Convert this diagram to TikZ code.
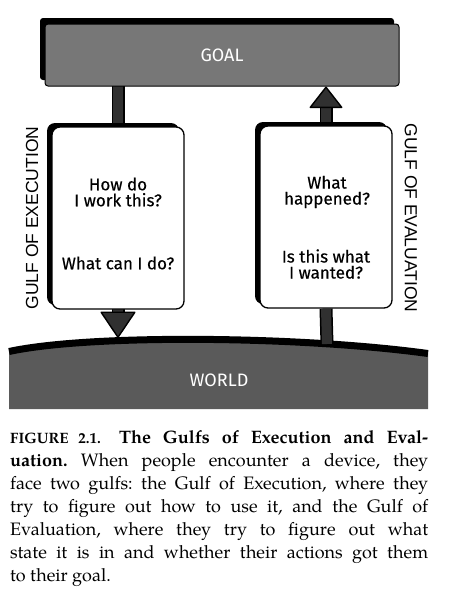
\documentclass[tikz,border=0pt]{standalone}
\usepackage{fontspec}
\setmainfont{TeX Gyre Pagella}
\newfontfamily\handfont{Fira Sans}[FakeBold=0.4]
\newfontfamily\placefont{Fira Sans}
\newfontfamily\gulffont{Liberation Sans}
\usetikzlibrary{arrows.meta,shadows,backgrounds,positioning}
\definecolor{goalgray}{HTML}{777777}
\definecolor{worldgray}{HTML}{5A5A5A}
\definecolor{barcol}{HTML}{303030}
\tikzset{
  sign/.style={draw=black, line width=1.3pt, fill=white, rounded corners=8pt,
    minimum width=132pt, minimum height=182pt, inner sep=0pt,
    drop shadow={shadow xshift=-5pt, shadow yshift=4pt, opacity=1, fill=black}},
  goalbox/.style={draw=black, line width=1pt, fill=goalgray, rounded corners=3pt,
    minimum width=354pt, minimum height=62pt, inner sep=0pt, text=white,
    font=\placefont\fontsize{18}{20}\selectfont,
    drop shadow={shadow xshift=-5pt, shadow yshift=6pt, opacity=1, fill=black}},
  question/.style={align=center, font=\handfont\fontsize{17}{16}\selectfont},
  gulflabel/.style={font=\gulffont\fontsize{17.5}{18}\selectfont},
  barout/.style={line width=13pt, draw=black},
  barin/.style={line width=10pt, draw=barcol},
  downhead/.style={-{Triangle[width=36pt,length=27pt,round,line width=1.4pt,color=black,fill=barcol]}},
  uphead/.style={-{Triangle[width=34pt,length=22pt,round,line width=1.4pt,color=black,fill=barcol]}}
}
\begin{document}
\begin{tikzpicture}[x=1pt,y=-1pt]
\useasboundingbox (0,0) rectangle (453,614);
% Goal
\node[goalbox] (goal) at (222,55) {GOAL};
% the two signs
\node[sign] (exec) at (118,218) {};
\node[sign] (eval) at (326,217) {};
\node[question] (execA) at (118,192) {How do\\I work this?};
\node[question] (execB) at (118,263) {What can I do?};
\node[question] (evalA) at (327,192) {What\\happened?};
\node[question] (evalB) at (326,264) {Is this what\\I wanted?};
% side labels
\node[gulflabel, rotate=90] (gulfE) at (32,218) {GULF OF EXECUTION};
\node[gulflabel, rotate=-90] (gulfV) at (411,218) {GULF OF EVALUATION};
% World
\coordinate (exectip) at (118,338);
\coordinate (evalfoot) at (327,344);
\begin{scope}[on background layer]
\fill[worldgray] (9,351.5) .. controls (90,334) and (300,336) .. (428,353.5)
  -- (428,409) -- (9,409) -- cycle;
\draw[line width=7pt] (9,351.5) .. controls (90,334) and (300,336) .. (428,353.5);
% bars
\draw[barout] (goal.center -| exec.north) -- (exec.north);
\draw[barin] (goal.center -| exec.north) -- (exec.north);
\draw[barout, shorten >=20pt] (exec.center) -- (exectip);
\draw[barin, downhead] (exec.center) -- (exectip);
\draw[barout] (evalfoot) -- (eval.south);
\draw[barin] (evalfoot) -- (eval.south);
\draw[barout, shorten >=16pt] (eval.center) -- (goal.south -| eval.north);
\draw[barin, uphead] (eval.center) -- (goal.south -| eval.north);
\end{scope}
\node[text=white, font=\placefont\fontsize{18}{20}\selectfont] (world) at (219,380) {WORLD};
% Caption
\node[anchor=north west, text width=418pt, inner sep=0pt, align=justify,
  font=\fontsize{18}{23}\selectfont\frenchspacing] (caption) at (10,430)
  {{\fontsize{15}{23}\selectfont\bfseries FIGURE 2.1.}\quad
   \textbf{The Gulfs of Execution and Eval-\linebreak uation.}
   When people encounter a device, they\linebreak
   face two gulfs: the Gulf of Execution, where they\linebreak
   try to figure out how to use it, and the Gulf of\linebreak
   Evaluation, where they try to figure out what\linebreak
   state it is in and whether their actions got them\linebreak
   to their goal.};
\end{tikzpicture}
\end{document}
